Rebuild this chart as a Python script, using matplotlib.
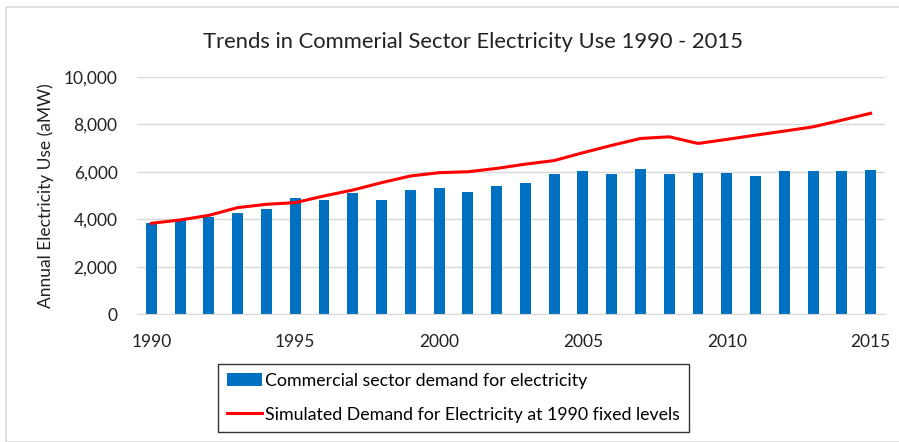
import matplotlib.pyplot as plt
from matplotlib.patches import Rectangle

plt.rcParams['font.family'] = ['Lato', 'DejaVu Sans']

years = list(range(1990, 2016))
commercial = [3830, 3950, 4100, 4260, 4420, 4900, 4810, 5090, 4810, 5230,
              5310, 5160, 5400, 5540, 5900, 6020, 5900, 6130, 5900, 5930,
              5930, 5820, 6020, 6020, 6020, 6060]
simulated = [3830, 3970, 4165, 4490, 4630, 4700, 4980, 5230, 5540, 5820,
             5960, 6000, 6140, 6320, 6470, 6800, 7110, 7400, 7470, 7190,
             7360, 7540, 7710, 7890, 8170, 8460]
xticks = [1990, 1995, 2000, 2005, 2010, 2015]
yticks = [0, 2000, 4000, 6000, 8000, 10000]

fig = plt.figure(figsize=(8.99, 4.42), dpi=100)
ax = fig.add_axes([137/899, 1 - 314.3/442, (885 - 137)/899, (314.3 - 76.7)/442])

# light outer frame
fig.patches.append(Rectangle((6/899, 0), 1, 1 - 7/442, transform=fig.transFigure,
                             fill=False, edgecolor='#d9d9d9', linewidth=1.2))

bars = ax.bar(years, commercial, width=0.38, color='#0070C0', zorder=2,
              label='Commercial sector demand for electricity')
line, = ax.plot(years, simulated, color='#FF0000', linewidth=2.2, zorder=3,
                label='Simulated Demand for Electricity at 1990 fixed levels')

ax.set_xlim(1989.5, 2015.5)
ax.set_ylim(0, 10000)
ax.set_xticks(xticks)
ax.set_yticks(yticks)
ax.set_yticklabels([f'{v:,}' for v in yticks])
ax.tick_params(length=0, labelsize=12.5, colors='#222222')
ax.tick_params(axis='x', pad=14)
ax.tick_params(axis='y', pad=14)
ax.grid(axis='y', color='#d9d9d9', linewidth=1, zorder=0)
for s in ['top', 'right', 'left']:
    ax.spines[s].set_visible(False)
ax.spines['bottom'].set_color('#d9d9d9')

ax.set_ylabel('Annual Electricity Use (aMW)', fontsize=12.5, labelpad=7, color='#222222')
fig.text(473/899, 1 - 42/442, 'Trends in Commerial Sector Electricity Use 1990 - 2015',
         ha='center', va='center', fontsize=15.8, color='#222222')

leg = fig.legend(handles=[bars, line], loc='upper left',
                 bbox_to_anchor=(218/899, 1 - 364/442), fontsize=12.8,
                 handlelength=2.0, handletextpad=0.15, borderpad=0.5,
                 borderaxespad=0, labelspacing=1.0, fancybox=False,
                 edgecolor='#333333', framealpha=1)
leg.get_frame().set_linewidth(1)

fig.savefig('out.png', dpi=100)
